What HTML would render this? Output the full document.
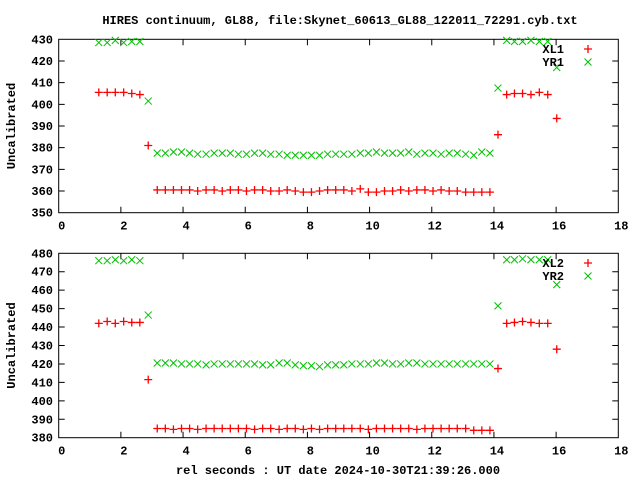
<!DOCTYPE html>
<html><head><meta charset="utf-8"><style>
body{margin:0;background:#fff}
svg text{font-family:"Liberation Mono",monospace;font-weight:bold;font-size:12px;fill:#000}
</style></head><body>
<svg id="c" width="640" height="480" xmlns="http://www.w3.org/2000/svg"></svg>
<script>
const xs=[1.29,1.56,1.82,2.09,2.35,2.61,2.88,
3.17,3.43,3.69,3.95,4.21,4.47,4.74,5.0,5.26,5.52,5.78,6.04,6.30,6.56,6.82,7.09,7.35,7.61,7.87,8.13,8.39,8.65,8.91,9.17,9.43,9.70,9.96,10.22,10.48,10.74,11.0,11.26,11.52,11.78,12.04,12.30,12.56,12.82,13.09,13.35,13.61,13.87,
14.13,14.41,14.66,14.92,15.19,15.46,15.73,16.02];
const xl1=[405.5,405.5,405.5,405.5,405,404.5,381,
360.5,360.5,360.5,360.5,360.5,360,360.5,360.5,360,360.5,360.5,360,360.5,360.5,360,360,360.5,360,359.5,359.5,360,360.5,360.5,360.5,360,361,359.5,359.5,360,360,360.5,360,360.5,360.5,360,360.5,360,360,359.5,359.5,359.5,359.5,
386,404.5,405,405,404.5,405.5,404.5,393.5];
const yr1=[428.5,428.5,429.5,428.5,429,429,401.5,
377.5,377.5,378,378,377.5,377,377,377.5,377.5,377.5,377,377,377.5,377.5,377,377,376.5,376.5,376.5,376.5,376.5,377,377,377,377,377.5,377.5,378,377.5,377.5,377.5,378,377,377.5,377.5,377,377.5,377.5,377,376.5,378,377.5,
407.5,429.5,429,429,429.5,429,429,417];
const xl2=[442,443,442,443,442.5,442.5,411.5,
385,385,384.5,385,385,384.5,385,
385,385,385,385,385,384.5,385,
385,384.5,385,385,384.5,385,384.5,
385,385,385,385,385,384.5,385,
385,385,385,385,384.5,385,385,
385,385,385,385,384,384,384,
417.5,442,442.5,443,442.5,442,442,428];
const yr2=[476,476,476.5,476,476.5,476,446.5,
420.5,420.5,420.5,420,420,420,419.5,420,420,420,420,420,420,419.5,419.5,420.5,420.5,419.5,419,419,418.5,419.5,419.5,419.5,420,420,420,420.5,420.5,420,420,420.5,420.5,420,420,420,420,420,420,420,420,420,
451.5,476.5,476.5,477,476.5,476.5,476.5,463];
const xTicks=[0,2,4,6,8,10,12,14,16,18];
const yTicks1=[350,360,370,380,390,400,410,420,430];
const yTicks2=[380,390,400,410,420,430,440,450,460,470,480];
const NS='http://www.w3.org/2000/svg';
const svg=document.getElementById('c');
function mk(t,a,p){const e=document.createElementNS(NS,t);for(const k in a)e.setAttribute(k,a[k]);(p||svg).appendChild(e);return e;}
const L=58.7,R=618.3;
function xf(v){return L+(v-0)/(18-0)*(R-L);}
function txt(x,y,s,anchor,parent){const t=mk('text',{x:x,y:y,'text-anchor':anchor||'middle'},parent);t.textContent=s;return t;}
const title=txt(340,24,'HIRES continuum, GL88, file:Skynet_60613_GL88_122011_72291.cyb.txt');


function plus(g,x,y){mk('path',{d:`M${x-4},${y}h8M${x},${y-4}v8`,stroke:'#ff0000','stroke-width':1.3,fill:'none'},g);}
function cross(g,x,y){mk('path',{d:`M${x-3.5},${y-3.5}l7,7M${x-3.5},${y+3.5}l7,-7`,stroke:'#00c000','stroke-width':1,fill:'none'},g);}
function panel(name,T,B,ymin,ymax,yt,s1,s2,n1,n2,legY){
  const g=mk('g',{});
  
  
  const yf=v=>B-(v-ymin)/(ymax-ymin)*(B-T);
  const ax=mk('g',{},g);
  
  
  mk('rect',{x:L,y:T,width:R-L,height:B-T,fill:'none',stroke:'#000','stroke-width':1},ax);
  xTicks.forEach(v=>{const x=xf(v);
    if(v>0&&v<18){mk('path',{d:`M${x},${B}v-6M${x},${T}v6`,stroke:'#000'},ax);}
    txt(x+3,B+17,String(v),'middle',ax);});
  yt.forEach(v=>{const y=yf(v);
    if(v>ymin&&v<ymax){mk('path',{d:`M${L},${y}h6M${R},${y}h-6`,stroke:'#000'},ax);}
    txt(53,y+4,String(v),'end',ax);});
  const yl=txt(0,0,'Uncalibrated','middle',ax);
  yl.setAttribute('transform',`translate(15,${(T+B)/2}) rotate(-90)`);
  
  
  const g1=mk('g',{},g);
  
  
  xs.forEach((v,i)=>plus(g1,xf(v),yf(s1[i])));
  const g2=mk('g',{},g);
  
  
  xs.forEach((v,i)=>cross(g2,xf(v),yf(s2[i])));
  const lg=mk('g',{},g);
  
  
  txt(564,legY+4,n1,'end',lg);plus(lg,588,legY);
  txt(564,legY+17,n2,'end',lg);cross(lg,588,legY+13);
}
panel('top-panel',39.3,212.7,350,430,yTicks1,xl1,yr1,'XL1','YR1',49);
panel('bottom-panel',253.3,437.7,380,480,yTicks2,xl2,yr2,'XL2','YR2',263);
const xl=txt(338,474,'rel seconds : UT date 2024-10-30T21:39:26.000');


</script>
</body></html>
